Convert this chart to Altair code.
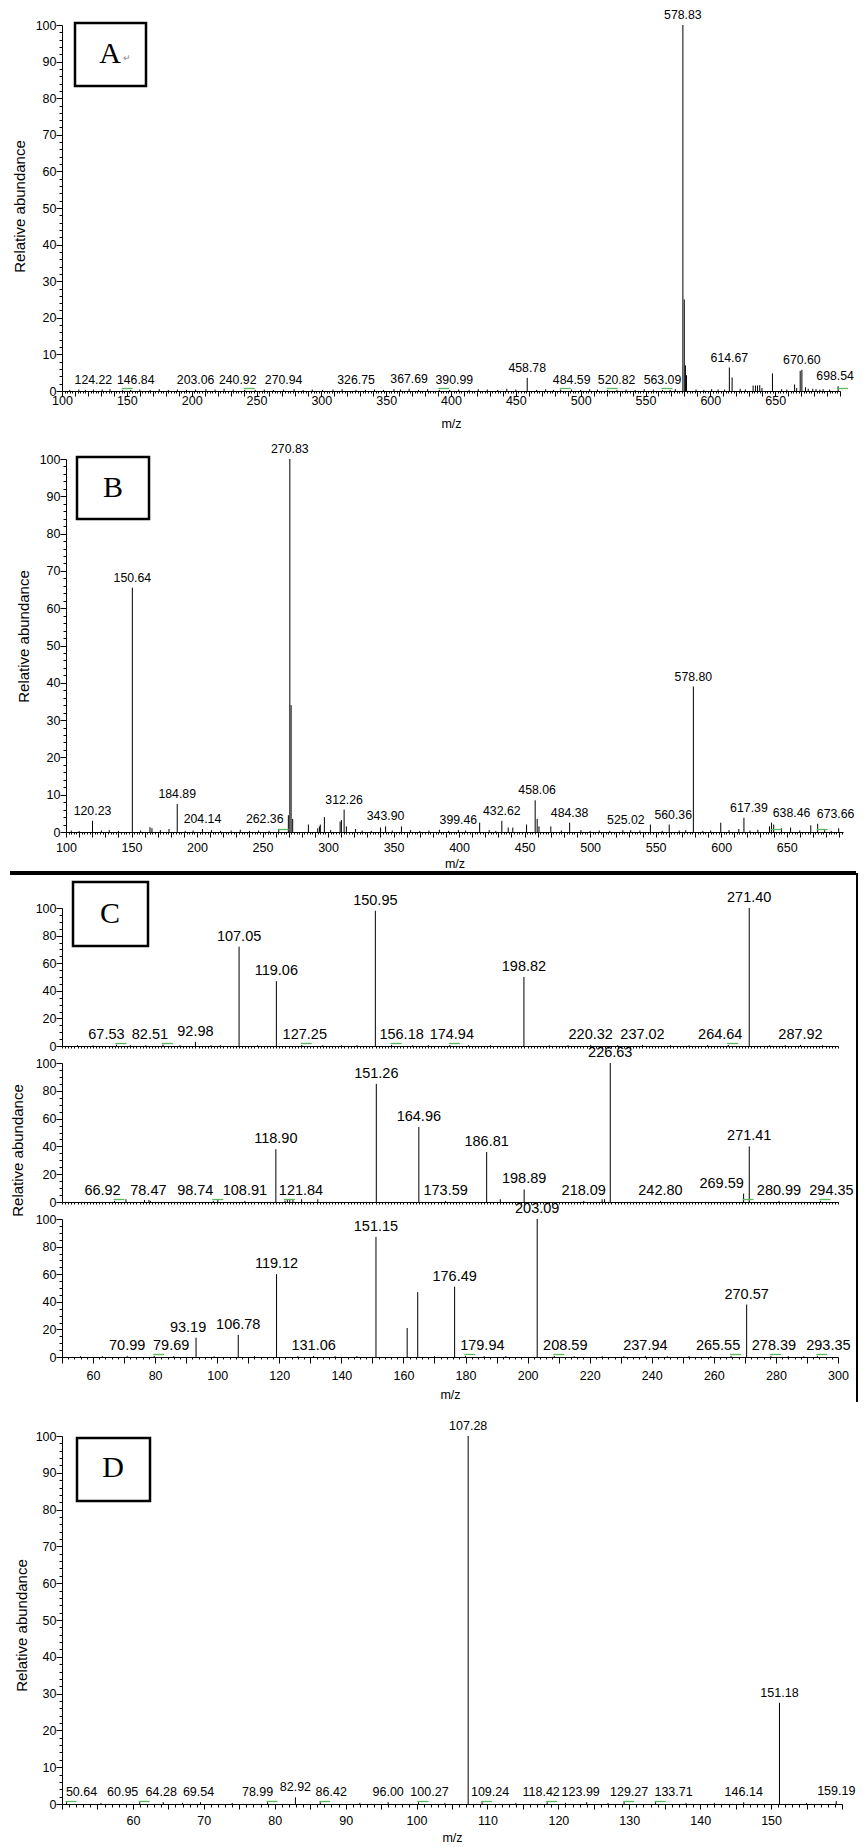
import altair as alt
import pandas as pd

LAB = "'Liberation Sans', Arial, sans-serif"
SANS = "'Liberation Sans', Arial, sans-serif"
SERIF = "'Liberation Serif', 'Times New Roman', serif"

# ---------------- data (m/z, relative abundance) ----------------
A_labeled = [(124.22, 0.4), (146.84, 0.3), (203.06, 0.4), (240.92, 0.3), (270.94, 0.4),
             (326.75, 0.3), (367.69, 0.6), (390.99, 0.3), (458.78, 3.6), (484.59, 0.4),
             (520.82, 0.3), (563.09, 0.3), (578.83, 100), (614.67, 6.4), (670.60, 5.8),
             (698.54, 1.3)]
A_other = [(579.9, 25), (580.8, 7), (581.6, 4.3), (611.0, 0.4), (616.8, 3.7), (633.0, 1.5),
           (634.8, 1.5), (636.4, 1.5), (638.1, 1.6), (639.8, 0.8), (647.9, 4.8), (665.0, 1.8),
           (666.6, 0.8), (669.3, 5.5), (673.4, 1.0), (675.5, 0.6), (679.0, 0.6), (681.5, 0.5),
           (684.5, 0.4),
           (106, 0.3), (113, 0.4), (118, 0.3), (131, 0.4), (137, 0.5), (153, 0.3), (160, 0.4),
           (168, 0.3), (175, 0.5), (182, 0.3), (189, 0.4), (196, 0.3), (211, 0.5), (218, 0.4),
           (225, 0.6), (232, 0.4), (249, 0.3), (256, 0.4), (263, 0.3), (279, 0.5), (286, 0.3),
           (293, 0.4), (301, 0.3), (309, 0.4), (316, 0.5), (334, 0.3), (341, 0.4), (348, 0.3),
           (356, 0.5), (361, 0.4), (375, 0.3), (382, 0.5), (399, 0.3), (406, 0.4), (414, 0.3),
           (421, 0.5), (428, 0.4), (436, 0.3), (443, 0.6), (450, 0.4), (466, 0.3), (473, 0.5),
           (479, 0.3), (493, 0.4), (500, 0.3), (507, 0.5), (513, 0.4), (528, 0.3), (535, 0.4),
           (542, 0.3), (549, 0.5), (556, 0.4), (569, 0.3), (573, 0.5), (589, 0.4), (595, 0.3),
           (601, 0.5), (606, 0.4), (623, 0.6), (627, 0.4), (655, 0.5), (659, 0.4), (687, 0.5),
           (692, 0.4)]
A_green = [146.84, 240.92, 390.99, 484.59, 520.82, 563.09, 698.54]

B_labeled = [(120.23, 3.0), (150.64, 65.5), (184.89, 7.5), (204.14, 0.8), (262.36, 0.8),
             (270.83, 100), (312.26, 6.0), (343.90, 1.5), (399.46, 0.5), (432.62, 3.0),
             (458.06, 8.5), (484.38, 2.5), (525.02, 0.5), (560.36, 2.0), (578.80, 39),
             (617.39, 3.8), (638.46, 2.5), (673.66, 2.2)]
B_other = [(164.1, 1.3), (165.6, 1.0), (178.6, 0.8), (269.7, 4.5), (271.8, 34), (273.0, 3.5),
           (285.0, 2.0), (292.1, 1.0), (293.4, 1.5), (294.1, 2.0), (297.2, 4.0), (309.2, 2.8),
           (310.2, 3.2), (314.0, 1.5), (321.0, 0.8), (340.0, 1.2), (356.0, 1.5), (415.7, 2.5),
           (437.5, 1.2), (441.0, 1.2), (451.5, 2.0), (459.6, 3.5), (461.0, 1.5), (470.0, 1.5),
           (546.0, 2.0), (599.7, 2.5), (613.5, 0.8), (636.9, 1.5), (640.1, 2.0), (646.0, 1.0),
           (653.0, 1.2), (668.4, 1.8), (689.7, 1.0),
           (104, 0.4), (110, 0.3), (127, 0.4), (133, 0.5), (140, 0.3), (157, 0.4), (172, 0.5),
           (191, 0.3), (197, 0.4), (211, 0.5), (218, 0.3), (226, 0.4), (233, 0.6), (240, 0.3),
           (247, 0.4), (255, 0.3), (302, 0.5), (326, 0.4), (333, 0.3), (349, 0.4), (363, 0.5),
           (370, 0.3), (377, 0.4), (385, 0.6), (392, 0.3), (405, 0.4), (423, 0.5), (428, 0.3),
           (478, 0.4), (493, 0.5), (500, 0.3), (507, 0.4), (515, 0.3), (531, 0.5), (538, 0.4),
           (555, 0.3), (568, 0.4), (573, 0.5), (586, 0.3), (592, 0.4), (606, 0.5), (622, 0.4),
           (628, 0.6), (660, 0.4), (679, 0.5), (684, 0.3)]
B_green = [262.36, 638.46, 673.66]

C1_labeled = [(67.53, 1.0), (82.51, 1.0), (92.98, 3.0), (107.05, 72), (119.06, 47),
              (127.25, 0.8), (150.95, 98), (156.18, 0.8), (174.94, 0.8), (198.82, 50),
              (220.32, 0.8), (237.02, 0.8), (264.64, 0.8), (271.40, 100), (287.92, 0.8)]
C1_other = [(55, 0.6), (60, 0.5), (72, 0.6), (77, 0.5), (88, 0.6), (98, 0.5), (101, 0.6),
            (113, 0.5), (134, 0.6), (140, 0.5), (145, 0.6), (163, 0.5), (168, 0.6), (181, 0.5),
            (188, 0.6), (207, 0.5), (213, 0.6), (229, 0.5), (246, 0.6), (252, 0.5), (258, 0.6),
            (278, 0.5), (283, 0.6), (295, 0.5)]
C1_green = [67.53, 82.51, 127.25, 156.18, 174.94, 264.64]

C2_labeled = [(66.92, 0.8), (78.47, 0.8), (98.74, 0.8), (108.91, 0.8), (118.90, 38),
              (121.84, 1.0), (151.26, 85), (164.96, 54), (173.59, 0.8), (186.81, 36),
              (198.89, 9), (218.09, 0.8), (226.63, 100), (242.80, 0.8), (269.59, 6),
              (271.41, 40), (280.99, 0.8), (294.35, 0.8)]
C2_other = [(70.6, 2.0), (76.6, 1.5), (78.0, 1.5), (100.2, 1.5), (122.6, 2.0), (123.4, 2.0),
            (124.4, 2.0), (127.2, 2.0), (132.4, 2.0), (191.2, 2.0), (224.0, 2.0), (224.8, 2.0)]
C2_green = [66.92, 98.74, 121.84, 269.59, 294.35]

C3_labeled = [(70.99, 0.8), (79.69, 0.8), (93.19, 14), (106.78, 16), (119.12, 60),
              (131.06, 0.8), (151.15, 87), (176.49, 51), (179.94, 0.8), (203.09, 100),
              (208.59, 0.8), (237.94, 0.8), (265.55, 0.8), (270.57, 38), (278.39, 0.8),
              (293.35, 0.8)]
C3_other = [(161.2, 21), (164.6, 47), (56, 0.6), (63, 0.6), (86, 0.6), (99, 0.6), (112, 0.6),
            (126, 0.6), (138, 0.6), (145, 0.6), (170, 0.6), (186, 0.6), (193, 0.6), (215, 0.6),
            (224, 0.6), (231, 0.6), (245, 0.6), (252, 0.6), (259, 0.6), (284, 0.6), (289, 0.6)]
C3_green = [79.69, 179.94, 208.59, 265.55, 278.39, 293.35]

D_labeled = [(50.64, 0.5), (60.95, 0.5), (64.28, 0.5), (69.54, 0.5), (78.99, 0.5),
             (82.92, 1.8), (86.42, 0.5), (96.00, 0.5), (100.27, 0.5), (107.28, 100),
             (109.24, 0.5), (118.42, 0.5), (123.99, 0.5), (129.27, 0.5), (133.71, 0.5),
             (146.14, 0.5), (151.18, 27.5), (159.19, 0.8)]
D_other = [(55.5, 0.3), (67, 0.3), (74, 0.3), (92, 0.3), (104, 0.3), (114, 0.3), (121, 0.3),
           (127, 0.3), (138, 0.3), (142, 0.3), (155, 0.3)]
D_green = [50.64, 60.95, 78.99, 86.42, 100.27, 109.24, 118.42, 129.27, 133.71]

# horizontal nudges (pixels) of crowded peak labels, as the instrument software placed them
A_nudge = {146.84: 13, 240.92: -7, 390.99: 15, 484.59: 11, 520.82: 9, 698.54: -3}
B_nudge = {262.36: -14, 458.06: 2, 525.02: 3, 560.36: 4, 617.39: 5, 638.46: 20, 673.66: 18}
C1_nudge = {67.53: -10, 82.51: -13, 127.25: 3, 156.18: 10, 174.94: 2, 264.64: -8}
C2_nudge = {66.92: -12, 78.47: -2, 98.74: -18, 121.84: 16, 269.59: -22, 294.35: 11}
C3_nudge = {79.69: 17, 93.19: -8, 179.94: 17, 208.59: 11, 265.55: -13, 278.39: 3, 293.35: 11}
D_nudge = {50.64: 15, 60.95: -17, 64.28: -2, 69.54: -2, 78.99: -10, 86.42: 11, 100.27: 11,
           109.24: 8, 118.42: -6, 123.99: -6, 129.27: 5, 133.71: 18}

ONE = pd.DataFrame({"k": [0]})


def x_axis(vals, lab_test, tick_test, big, small, pad, title_y, gap, show=True):
    if not show:
        return alt.Axis(values=vals, labels=False, tickSize=2, title=None, grid=False,
                        offset=-gap)
    return alt.Axis(values=vals, labelExpr="(" + lab_test + ") ? datum.label : ''",
                    tickSize={"condition": {"test": tick_test, "value": big}, "value": small},
                    labelPadding=pad, labelFlush=False, labelOverlap=False, grid=False,
                    title="m/z", titleFont=LAB, titleFontSize=12.5, titleFontWeight="normal",
                    titleY=title_y, titleBaseline="middle", offset=-gap)


def y_axis(vals, lab_mod, tick_mod, title=None, tx=0, ty=0, offset=0):
    kw = dict(values=vals,
              labelExpr="datum.value % " + str(lab_mod) + " === 0 ? datum.label : ''",
              tickSize={"condition": {"test": "datum.value % " + str(tick_mod) + " === 0",
                                      "value": 6}, "value": 3},
              labelPadding=0, labelOverlap=False, labelFlush=False, grid=False)
    if title:
        kw.update(title=title, titleFont=SANS, titleFontSize=15, titleFontWeight="normal",
                  titleX=tx, titleY=ty, titleAngle=270, titleBaseline="middle", titleAlign="center")
    else:
        kw["title"] = None
    if offset:
        kw["offset"] = offset
    return alt.Axis(**kw)


def box(x0, y0, x1, y1, letter, lx, ly):
    r = alt.Chart(ONE).mark_rect(fill="white", stroke="black", strokeWidth=2.5).encode(
        x=alt.value(x0), x2=alt.value(x1), y=alt.value(y0), y2=alt.value(y1))
    t = alt.Chart(ONE).mark_text(text=letter, font=SERIF, fontSize=30, color="black",
                                 align="center", baseline="middle").encode(
        x=alt.value(lx), y=alt.value(ly))
    return [r, t]


def panel(labeled, other, green, nudge, dom, width, plot_h, gap, xax, yax, xrange=None,
          lab_size=12.3, extra=None):
    ppu = (xrange[1] - xrange[0] if xrange else width) / (dom[1] - dom[0])
    peaks = pd.DataFrame(labeled + other, columns=["mz", "ab"])
    peaks["base"] = 0.0
    labs = pd.DataFrame(labeled, columns=["mz", "ab"])
    labs["txt"] = ["%.2f" % v for v in labs["mz"]]
    labs["lx"] = [m + nudge.get(m, 0) / ppu for m in labs["mz"]]
    g = pd.DataFrame({"mz": green})
    g["lo"] = g["mz"] - 1.0 / ppu
    g["hi"] = g["mz"] + 10.0 / ppu
    sc = dict(domain=dom, nice=False, zero=False)
    if xrange:
        sc["range"] = xrange
    xs = alt.Scale(**sc)
    ys = alt.Scale(domain=[0, 100], nice=False, range=[plot_h, 0])
    rules = alt.Chart(peaks).mark_rule(color="black", strokeWidth=1).encode(
        x=alt.X("mz:Q", scale=xs, axis=xax),
        y=alt.Y("ab:Q", scale=ys, axis=yax),
        y2="base:Q")
    text = alt.Chart(labs).mark_text(dy=-3, baseline="bottom", align="center", font=LAB,
                                     fontSize=lab_size, color="black").encode(
        x=alt.X("lx:Q", scale=xs, axis=xax),
        y=alt.Y("ab:Q", scale=ys, axis=yax),
        text="txt:N")
    gr = alt.Chart(g).mark_rule(color="#5cb85c", strokeWidth=1.3).encode(
        x=alt.X("lo:Q", scale=xs, axis=xax), x2="hi:Q", y=alt.value(plot_h - 2.5))
    layers = [rules, text, gr] + (extra or [])
    return alt.layer(*layers).properties(width=width, height=plot_h + gap)


Y_MAIN = list(range(0, 101, 2))
Y_C = list(range(0, 101, 5))

# ---------- A ----------
anchor = alt.Chart(ONE).mark_square(size=1, opacity=0, filled=True).encode(
    x=alt.value(-20), y=alt.value(-16.5))
ret = alt.Chart(ONE).mark_text(text="\u21b5", fontSize=9, color="#888888").encode(
    x=alt.value(65), y=alt.value(33))
A = panel(A_labeled, A_other, A_green, A_nudge, [100, 700], 778, 366, 68,
          x_axis(list(range(100, 701, 2)), "datum.value % 50 === 0 && datum.value < 700",
                 "datum.value % 10 === 0", 5, 2, -2, 32, 68),
          y_axis(Y_MAIN, 10, 10, "Relative abundance", -43, 181),
          extra=box(13, -2, 84, 61, "A", 48, 29) + [ret, anchor])

# ---------- B ----------
B = panel(B_labeled, B_other, B_green, B_nudge, [100, 693], 781, 373, 76,
          x_axis(list(range(100, 694, 2)), "datum.value % 50 === 0 && datum.value < 700",
                 "datum.value % 10 === 0", 5, 2, 4, 31, 76),
          y_axis(Y_MAIN, 10, 10, "Relative abundance", -43, 177, offset=-4),
          xrange=[4, 781],
          extra=box(15, -2, 87, 60, "B", 51, 29))

# ---------- C ----------
sep = alt.Chart(ONE).mark_rule(color="black", strokeWidth=4).encode(
    x=alt.value(-52), x2=alt.value(794), y=alt.value(-35))
vline = alt.Chart(ONE).mark_rule(color="black", strokeWidth=2).encode(
    x=alt.value(795), y=alt.value(-35), y2=alt.value(494))
C1 = panel(C1_labeled, C1_other, C1_green, C1_nudge, [50, 300], 776, 138, 17,
           x_axis(list(range(50, 301, 1)), "", "", 0, 0, 0, 0, 17, show=False),
           y_axis(Y_C, 20, 20), lab_size=14.5,
           extra=[sep, vline] + box(11, -26, 86, 38, "C", 48, 6))
C2 = panel(C2_labeled, C2_other, C2_green, C2_nudge, [50, 300], 776, 139, 17,
           x_axis(list(range(50, 301, 1)), "", "", 0, 0, 0, 0, 17, show=False),
           y_axis(Y_C, 20, 20, "Relative abundance", -45, 87), lab_size=14.5)
C3 = panel(C3_labeled, C3_other, C3_green, C3_nudge, [50, 300], 776, 138, 79,
           x_axis(list(range(50, 301, 2)), "datum.value % 20 === 0 && datum.value >= 60",
                  "datum.value % 10 === 0", 6, 2, 6, 37, 79),
           y_axis(Y_C, 20, 20), lab_size=14.5)

# ---------- D ----------
D = panel(D_labeled, D_other, D_green, D_nudge, [50, 160], 780, 368, 0,
          x_axis(list(range(50, 161, 1)), "datum.value % 10 === 0 && datum.value >= 60 && datum.value <= 150",
                 "datum.value % 5 === 0", 5, 3, 5, 33, 0),
          y_axis(Y_MAIN, 10, 10, "Relative abundance", -41, 189),
          lab_size=12.5,
          extra=box(15, 2, 88, 65, "D", 51, 32))

chart = alt.vconcat(A, B, C1, C2, C3, D, spacing=0, bounds="flush", padding=0).configure_view(
    stroke=None
).configure_axis(
    domainColor="black", tickColor="black", labelColor="black", titleColor="black",
    labelFont=LAB, labelFontSize=12.5, domainWidth=1, tickWidth=1, labelOverlap=False
)

chart.save("out.html", embed_options={"renderer": "svg", "actions": False})
